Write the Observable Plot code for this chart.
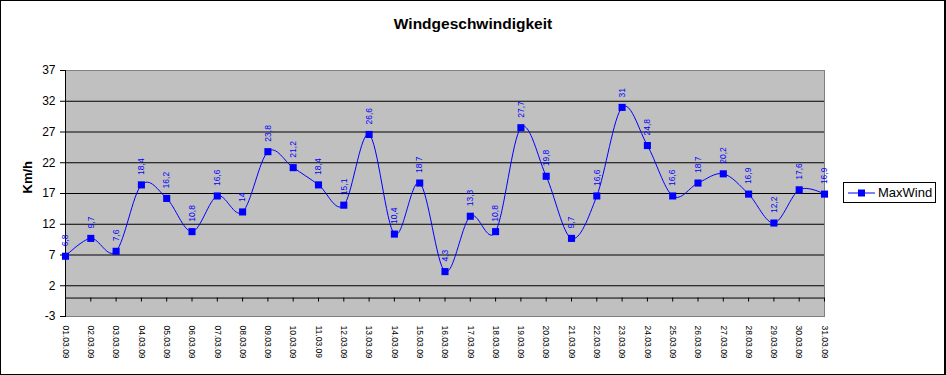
<!DOCTYPE html>
<html>
<head>
<meta charset="utf-8">
<script src="https://cdn.jsdelivr.net/npm/d3@7"></script>
<script src="https://cdn.jsdelivr.net/npm/@observablehq/plot@0.6"></script>
<style>
  html, body { margin: 0; padding: 0; background: #fff; }
  #wrap { position: relative; width: 946px; height: 375px; font-family: Arial, "Liberation Sans", sans-serif; }
  #border { position: absolute; left: 0; top: 0; width: 946px; height: 375px; box-sizing: border-box; border: 1px solid #000; border-right-width: 2px; pointer-events: none; }
  #title { position: absolute; left: 0; width: 946px; top: 15px; text-align: center; font-weight: bold; font-size: 15.5px; color: #000; }
  #legend { position: absolute; left: 843px; top: 182px; width: 93px; height: 21px; box-sizing: border-box; border: 1px solid #000; background: #fff; }
  #legend svg { position: absolute; left: 3px; top: 5px; }
  #legend span { position: absolute; left: 34px; top: 2px; font-size: 13px; color: #000; }
  #chart { position: absolute; left: 0; top: 0; }
</style>
</head>
<body>
<div id="wrap">
  <div id="chart"></div>
  <div id="title">Windgeschwindigkeit</div>
  <div id="legend">
    <svg width="30" height="10"><line x1="1" y1="5" x2="28" y2="5" stroke="#0000ff" stroke-width="1"/><rect x="11" y="1.5" width="7" height="7" fill="#0000ff"/></svg>
    <span>MaxWind</span>
  </div>
  <div id="border"></div>
</div>
<script>
const dates = ["01.03.09","02.03.09","03.03.09","04.03.09","05.03.09","06.03.09","07.03.09","08.03.09","09.03.09","10.03.09","11.03.09","12.03.09","13.03.09","14.03.09","15.03.09","16.03.09","17.03.09","18.03.09","19.03.09","20.03.09","21.03.09","22.03.09","23.03.09","24.03.09","25.03.09","26.03.09","27.03.09","28.03.09","29.03.09","30.03.09","31.03.09"];
const maxWind = [6.8, 9.7, 7.6, 18.4, 16.2, 10.8, 16.6, 14, 23.8, 21.2, 18.4, 15.1, 26.6, 10.4, 18.7, 4.3, 13.3, 10.8, 27.7, 19.8, 9.7, 16.6, 31, 24.8, 16.6, 18.7, 20.2, 16.9, 12.2, 17.6, 16.9];
const yTicks = [-3, 2, 7, 12, 17, 22, 27, 32, 37];
const seriesName = "MaxWind";
const yLabel = "Km/h";

const data = dates.map((d, i) => ({date: d, value: maxWind[i]}));
const fmt = v => String(v).replace(".", ",");

const chart = Plot.plot({
  width: 946,
  height: 375,
  marginLeft: 65,
  marginRight: 122,
  marginTop: 70,
  marginBottom: 59,
  style: {fontFamily: "Arial, 'Liberation Sans', sans-serif", background: "transparent"},
  x: {type: "point", domain: dates, padding: 0, round: false, axis: null},
  y: {domain: [-3, 37]},
  marks: [
    Plot.frame({fill: "#c0c0c0", stroke: "#808080"}),
    Plot.ruleY(yTicks.slice(1, -1), {stroke: "#000", strokeWidth: 1}),
    Plot.ruleY([0], {stroke: "#000", strokeWidth: 1}),
    Plot.ruleX(dates, {x: d => d, y1: 0, y2: 0, insetBottom: -4, stroke: "#000"}),
    Plot.frame({anchor: "left", stroke: "#000"}),
    Plot.axisY({ticks: yTicks, tickFormat: d => String(d), tickSize: 5, tickPadding: 5, fontSize: 12, stroke: "#000", color: "#000", label: null}),
    Plot.text([yLabel], {frameAnchor: "left", dx: -38, rotate: -90, fontSize: 13, fontWeight: "bold", fill: "#000"}),
    Plot.text(dates, {x: d => d, frameAnchor: "bottom", dy: 9, rotate: 90, textAnchor: "start", lineAnchor: "middle", fontSize: 8.5, fill: "#000"}),
    Plot.line(data, {x: "date", y: "value", curve: "cardinal", stroke: "#0000ff", strokeWidth: 1}),
    Plot.dot(data, {x: "date", y: "value", symbol: "square", r: 4, fill: "#0000ff", stroke: "none"}),
    Plot.text(data, {x: "date", y: "value", text: d => fmt(d.value), rotate: -90, textAnchor: "start", lineAnchor: "middle", dy: -10, fontSize: 8.5, fill: "#0000ff"})
  ]
});
document.getElementById("chart").appendChild(chart);
</script>
</body>
</html>
